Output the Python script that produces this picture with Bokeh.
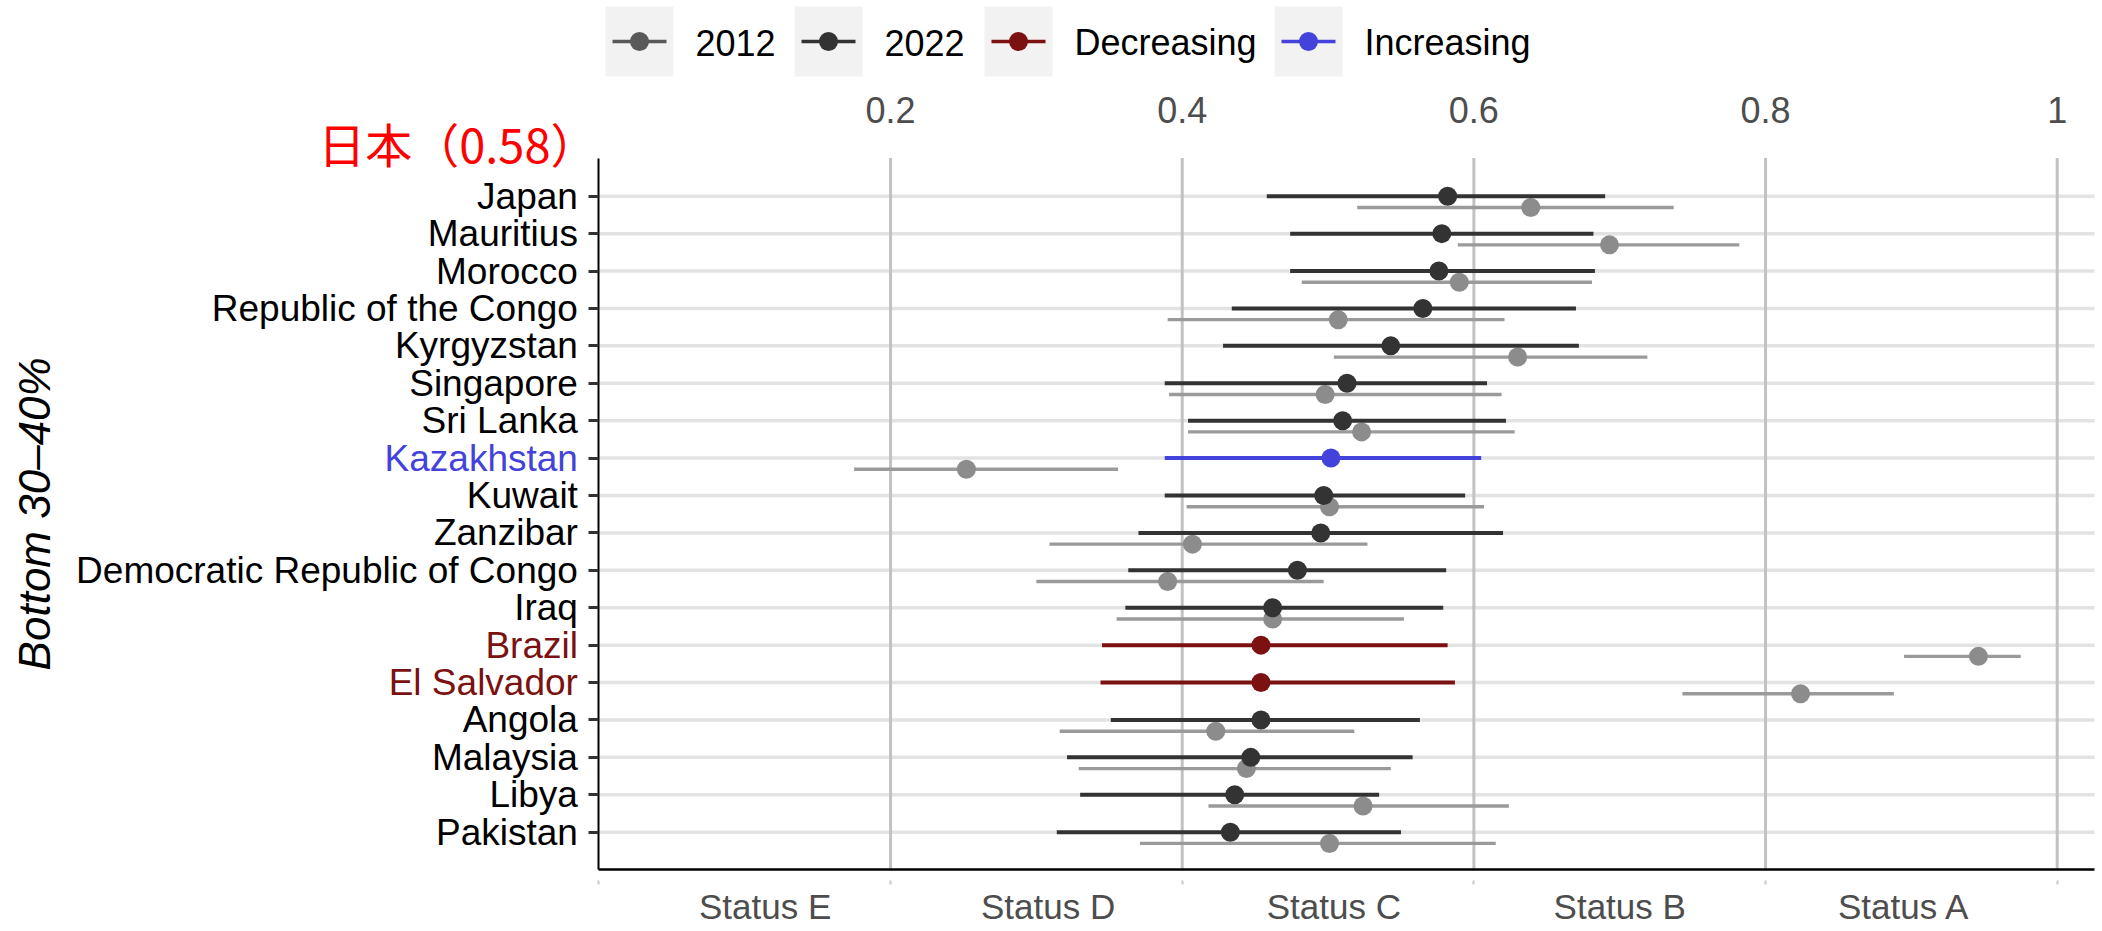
import math
from bokeh.plotting import figure
from bokeh.models import Range1d, FixedTicker, LinearAxis, ColumnDataSource
from bokeh.transform import dodge
from bokeh.embed import file_html
from bokeh.resources import INLINE
from bokeh.core.properties import value

# ---------------- data ----------------
countries = ["Japan", "Mauritius", "Morocco", "Republic of the Congo", "Kyrgyzstan",
             "Singapore", "Sri Lanka", "Kazakhstan", "Kuwait", "Zanzibar",
             "Democratic Republic of Congo", "Iraq", "Brazil", "El Salvador",
             "Angola", "Malaysia", "Libya", "Pakistan"]
est_2022 = [0.582, 0.578, 0.576, 0.565, 0.543, 0.513, 0.510, 0.502, 0.497, 0.495,
            0.479, 0.462, 0.454, 0.454, 0.454, 0.447, 0.436, 0.433]
low_2022 = [0.458, 0.474, 0.474, 0.434, 0.428, 0.388, 0.404, 0.388, 0.388, 0.370,
            0.363, 0.361, 0.345, 0.344, 0.351, 0.321, 0.330, 0.314]
high_2022 = [0.690, 0.682, 0.683, 0.670, 0.672, 0.609, 0.622, 0.605, 0.594, 0.620,
             0.581, 0.579, 0.582, 0.587, 0.563, 0.558, 0.535, 0.550]
est_2012 = [0.639, 0.693, 0.590, 0.507, 0.630, 0.498, 0.523, 0.252, 0.501, 0.407,
            0.390, 0.462, 0.946, 0.824, 0.423, 0.444, 0.524, 0.501]
low_2012 = [0.520, 0.589, 0.482, 0.390, 0.504, 0.391, 0.404, 0.175, 0.403, 0.309,
            0.300, 0.355, 0.895, 0.743, 0.316, 0.329, 0.418, 0.371]
high_2012 = [0.737, 0.782, 0.681, 0.621, 0.719, 0.619, 0.628, 0.356, 0.607, 0.527,
             0.497, 0.552, 0.975, 0.888, 0.518, 0.543, 0.624, 0.615]
trend = ["", "", "", "", "", "", "", "Increasing", "", "", "", "", "Decreasing",
         "Decreasing", "", "", "", ""]

top_ticks = [0.2, 0.4, 0.6, 0.8, 1.0]
bottom_minor_ticks = [0.0, 0.2, 0.4, 0.6, 0.8, 1.0]
status_labels = ["Status E", "Status D", "Status C", "Status B", "Status A"]
status_pos = [0.114, 0.308, 0.504, 0.700, 0.895]
legend_labels = ["2012", "2022", "Decreasing", "Increasing"]
y_title = "Bottom 30\u201340%"
highlight_text = "日本（0.58）"

# ---------------- style ----------------
FONT = "Liberation Sans"
COL_2012_LINE = "#9a9a9a"
COL_2012_PT = "#8c8c8c"
COL_2022 = "#333333"
COL_DEC = "#7b1111"
COL_INC = "#4343db"
TEXT_GREY = "#4d4d4d"

n = len(countries)
row = [n - i for i in range(n)]
col_2022 = [COL_INC if t == "Increasing" else COL_DEC if t == "Decreasing" else COL_2022
            for t in trend]

# ---------------- geometry (page pixels -> data) ----------------
W, H = 2100, 929
PX_X = 1458.3          # pixels per x unit
PX_Y = 37.41           # pixels per row
X0_SCREEN = 598.4      # x = 0
Y0_SCREEN = 869.1      # y = 0 (bottom axis line)
X_END = 1.0256         # right edge of plotting area
Y_END = 19.02          # top edge of plotting area


def X(px):
    return (px - X0_SCREEN) / PX_X


def Y(py):
    return (Y0_SCREEN - py) / PX_Y


p = figure(width=W, height=H, x_range=Range1d(X(0), X(W)),
           y_range=Range1d(Y(H), Y(0)),
           output_backend="svg", toolbar_location=None,
           x_axis_location=None, y_axis_location=None, min_border=0)
p.outline_line_color = None
p.grid.visible = False

src = ColumnDataSource(dict(country=countries, row=row, est22=est_2022, lo22=low_2022,
                            hi22=high_2022, est12=est_2012, lo12=low_2012, hi12=high_2012,
                            col22=col_2022))

# grid lines limited to the plotting area
p.segment(x0=[0] * n, x1=[X_END] * n, y0=row, y1=row,
          line_color="#e3e3e3", line_width=3.5, level="underlay")
p.segment(x0=top_ticks, x1=top_ticks, y0=[0] * len(top_ticks),
          y1=[Y_END] * len(top_ticks), line_color="#c2c2c2", line_width=3,
          level="underlay")

# left axis (country names)
left = LinearAxis(ticker=FixedTicker(ticks=row), fixed_location=0, bounds=(0, Y_END),
                  major_label_overrides={r: (c if t == "" else "")
                                         for r, c, t in zip(row, countries, trend)})
left.axis_line_color = "black"
left.axis_line_width = 2
left.major_tick_in = 0
left.major_tick_out = 10
left.major_tick_line_width = 3
left.major_tick_line_color = "#333333"
left.minor_tick_line_color = None
left.major_label_standoff = 11
left.major_label_text_font = FONT
left.major_label_text_font_size = "37px"
left.major_label_text_color = "black"
p.add_layout(left, "left")

# top axis (numbers)
top = LinearAxis(ticker=FixedTicker(ticks=top_ticks), fixed_location=Y_END,
                 bounds=(0, X_END), major_label_overrides={1.0: "1"})
top.axis_line_color = None
top.major_tick_line_color = None
top.minor_tick_line_color = None
top.major_tick_in = 0
top.major_tick_out = 0
top.major_label_standoff = 35
top.major_label_text_font = FONT
top.major_label_text_font_size = "36px"
top.major_label_text_color = TEXT_GREY
p.add_layout(top, "above")

# bottom axis (line, small ticks, status labels)
bottom = LinearAxis(ticker=FixedTicker(ticks=status_pos, minor_ticks=bottom_minor_ticks),
                    fixed_location=0, bounds=(0, X_END),
                    major_label_overrides=dict(zip(status_pos, status_labels)))
bottom.axis_line_color = "black"
bottom.axis_line_width = 2.5
bottom.major_tick_line_color = None
bottom.major_tick_in = 0
bottom.major_tick_out = 0
bottom.minor_tick_in = -11
bottom.minor_tick_out = 15
bottom.minor_tick_line_color = "#c8c8c8"
bottom.minor_tick_line_width = 2
bottom.major_label_standoff = 2
bottom.major_label_text_font = FONT
bottom.major_label_text_font_size = "35px"
bottom.major_label_text_color = TEXT_GREY
p.add_layout(bottom, "below")

# 2012 estimates (offset below each row)
y12 = dodge("row", -0.3)
p.segment(x0="lo12", y0=y12, x1="hi12", y1=y12, source=src,
          line_color=COL_2012_LINE, line_width=3.4)
p.scatter(x="est12", y=y12, source=src, size=19, fill_color=COL_2012_PT, line_color=None)

# 2022 estimates
p.segment(x0="lo22", y0="row", x1="hi22", y1="row", source=src,
          line_color="col22", line_width=4)
p.scatter(x="est22", y="row", source=src, size=19, fill_color="col22", line_color=None)

# coloured country names
hl = [i for i, t in enumerate(trend) if t != ""]
p.text(x=[0] * len(hl), y=[row[i] for i in hl], text=[countries[i] for i in hl],
       text_color=[col_2022[i] for i in hl], x_offset=-21, text_align="right",
       text_baseline="middle", text_font=value(FONT), text_font_size="37px")

# y-axis title
p.text(x=[X(34)], y=[Y_END / 2], text=[y_title], angle=math.pi / 2, text_align="center",
       text_baseline="middle", text_font=value(FONT), text_font_size="44px",
       text_font_style="italic", text_color="black")

# red highlight label
p.text(x=[X(597)], y=[Y(141.5)], text=[highlight_text], text_align="right",
       text_baseline="middle", text_font=value("Noto Sans CJK JP"),
       text_font_size="47px", text_color="#ff0000")

# ---------------- legend ----------------
key_left = [605, 794, 984, 1274]
key_w = 68
key_mid = 41
leg_colors = ["#595959", COL_2022, COL_DEC, COL_INC]
p.quad(left=[X(k) for k in key_left], right=[X(k + key_w) for k in key_left],
       top=[Y(6)] * 4, bottom=[Y(76)] * 4, fill_color="#f2f2f2", line_color=None)
p.segment(x0=[X(k + 7) for k in key_left], y0=[Y(key_mid)] * 4,
          x1=[X(k + 61) for k in key_left], y1=[Y(key_mid)] * 4,
          line_color=leg_colors, line_width=3.6)
p.scatter(x=[X(k + 34) for k in key_left], y=[Y(key_mid)] * 4, size=19,
          fill_color=leg_colors, line_color=None)
p.text(x=[X(k + key_w + 22) for k in key_left], y=[Y(42)] * 4, text=legend_labels,
       text_align="left", text_baseline="middle", text_font=value(FONT),
       text_font_size="36px", text_color="black")

open("out.html", "w").write(file_html(p, INLINE))
